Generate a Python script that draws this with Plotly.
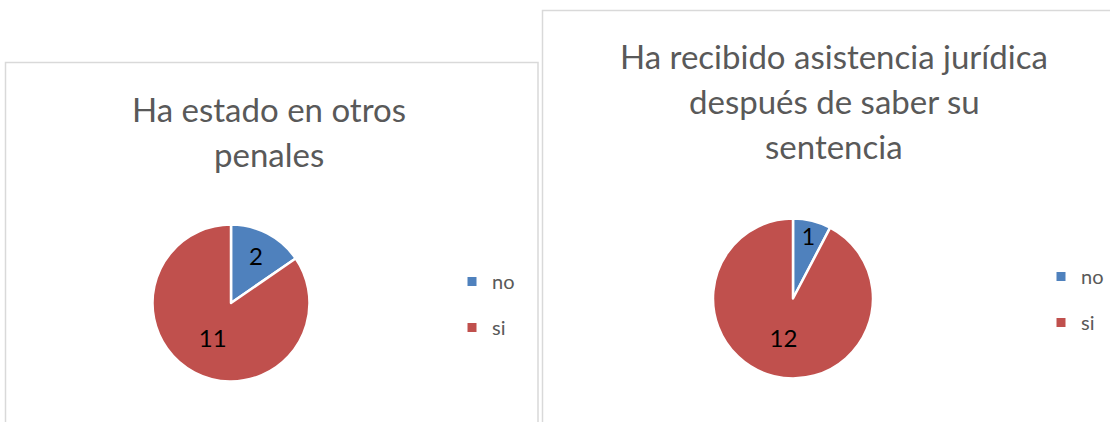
import plotly.graph_objects as go

# ---- data ----
categories = ["no", "si"]
values_left = [2, 11]
values_right = [1, 12]
title_left = ["Ha estado en otros", "penales"]
title_right = ["Ha recibido asistencia jurídica", "después de saber su", "sentencia"]
colors = ["#4F81BD", "#C0504D"]

W, H = 1110, 422
FONT = "Lato"
GREY = "#595959"


def px(x):
    return x / W


def py(y):
    return 1 - y / H


fig = go.Figure()

# pies
pie_specs = [
    (values_left, (152.5, 309.5), (224.5, 381.5)),
    (values_right, (713, 873), (218.5, 378.5)),
]
for vals, (x0, x1), (y0, y1) in pie_specs:
    fig.add_trace(go.Pie(
        labels=categories, values=vals, sort=False, direction="clockwise",
        rotation=0, showlegend=False,
        marker=dict(colors=colors, line=dict(color="white", width=2.5)),
        textinfo="value", textposition="inside", insidetextorientation="horizontal",
        textfont=dict(family=FONT, size=24, color="black"),
        domain=dict(x=[px(x0), px(x1)], y=[py(y1), py(y0)]),
        hoverinfo="label+value",
    ))

# legend entries (one per category, per chart)
for leg in ["legend", "legend2"]:
    for cat, col in zip(categories, colors):
        fig.add_trace(go.Scatter(
            x=[None], y=[None], mode="markers", name=cat,
            marker=dict(symbol="square", size=9, color=col),
            legend=leg, legendgroup=leg + cat, showlegend=True,
        ))

# panel frames
fig.add_shape(type="rect", xref="paper", yref="paper",
              x0=px(5.5), x1=px(538), y0=py(430), y1=py(62.5),
              line=dict(color="#d9d9d9", width=1.5), layer="below")
fig.add_shape(type="rect", xref="paper", yref="paper",
              x0=px(542.5), x1=px(1116), y0=py(430), y1=py(10.5),
              line=dict(color="#d9d9d9", width=1.5), layer="below")

# titles (one annotation per line)
for lines, cx, cy0 in [(title_left, 269, 109), (title_right, 834, 56)]:
    for i, t in enumerate(lines):
        fig.add_annotation(text=t, xref="paper", yref="paper",
                           x=px(cx), y=py(cy0 + 45 * i),
                           xanchor="center", yanchor="middle", showarrow=False,
                           font=dict(family=FONT, size=33, color=GREY))

legend_common = dict(font=dict(family=FONT, size=20, color=GREY),
                     bgcolor="rgba(0,0,0,0)", borderwidth=0,
                     xanchor="left", yanchor="top", tracegroupgap=17,
                     orientation="v")

fig.update_layout(
    width=W, height=H,
    margin=dict(l=0, r=0, t=0, b=0),
    paper_bgcolor="white", plot_bgcolor="white",
    xaxis=dict(visible=False), yaxis=dict(visible=False),
    legend=dict(x=px(452), y=py(262), **legend_common),
    legend2=dict(x=px(1041), y=py(257), **legend_common),
)

fig.write_html("out.html",
               config={"displayModeBar": False},
               post_script="document.body.style.margin='0';document.body.style.overflow='hidden';")
